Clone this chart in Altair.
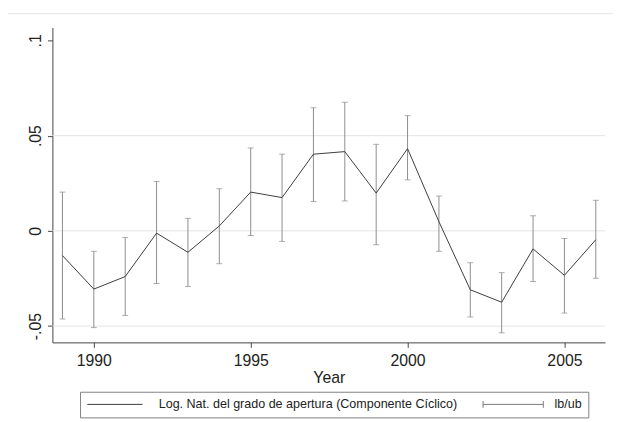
import altair as alt
import pandas as pd

years = list(range(1989, 2007))
serie = [-0.01295, -0.03057, -0.02399, -0.00119, -0.01124, 0.00259, 0.02036, 0.01746, 0.04026,
         0.04161, 0.01984, 0.04316, 0.00482, -0.03093, -0.03746, -0.00948, -0.02332, -0.00466]
lb = [-0.04627, -0.05078, -0.04440, -0.02762, -0.02917, -0.01725, -0.00244, -0.00554, 0.01544,
      0.01570, -0.00725, 0.02679, -0.01073, -0.04523, -0.05352, -0.02658, -0.04316, -0.02487]
ub = [0.02036, -0.01073, -0.00347, 0.02591, 0.00658, 0.02212, 0.04352, 0.04026, 0.06461,
      0.06751, 0.04544, 0.06047, 0.01829, -0.01674, -0.02192, 0.00793, -0.00399, 0.01606]
x_ticks = [1990, 1995, 2000, 2005]
y_ticks = [-0.05, 0, 0.05, 0.1]
grid_vals = [-0.05, 0, 0.05]
label_line = "Log. Nat. del grado de apertura (Componente Cíclico)"
label_ci = "lb/ub"

df = pd.DataFrame({"year": years, "val": serie, "lb": lb, "ub": ub, "series": label_line})
grid_df = pd.DataFrame({"g": grid_vals})

FONT = "Liberation Sans"
xscale = alt.Scale(domain=[1988.68, 2006.297], nice=False, zero=False)
yscale = alt.Scale(domain=[-0.05855, 0.10674], nice=False, zero=False)

ylabel = ("datum.value == 0 ? '0' : (datum.value < 0 ? '-' : '') + "
          "replace(format(abs(datum.value), '.2~f'), '0.', '.')")

frame_top = alt.Chart(pd.DataFrame({"a": [0]})).mark_rule(color="#e6e6e6", strokeWidth=1).encode(
    x=alt.value(-45), x2=alt.value(568), y=alt.value(-14))

grid = alt.Chart(grid_df).mark_rule(color="#e4e4e4", strokeWidth=1).encode(
    y=alt.Y("g:Q", scale=yscale))

bars = alt.Chart(df).mark_errorbar(
    ticks={"size": 6, "thickness": 1, "color": "#8c8c8c"},
    rule={"strokeWidth": 1, "color": "#8c8c8c"},
    color="#8c8c8c",
).encode(
    x=alt.X("year:Q", scale=xscale),
    y=alt.Y("lb:Q", scale=yscale),
    y2="ub:Q",
)

sym_expr = ("datum.value == 'lb/ub' ? 'M-1,-0.7L-1,0.7M-1,0L11.2,0M11.2,-0.7L11.2,0.7' "
            ": 'M-1,0L10.2,0'")

line = alt.Chart(df).mark_line(strokeWidth=1).encode(
    x=alt.X("year:Q", scale=xscale,
            axis=alt.Axis(values=x_ticks, format="d", title="Year", grid=False,
                          tickSize=5, labelPadding=5, titlePadding=2)),
    y=alt.Y("val:Q", scale=yscale,
            axis=alt.Axis(values=y_ticks, labelExpr=ylabel, title=None, grid=False,
                          tickSize=5, labelAngle=270, labelAlign="center",
                          labelBaseline="bottom", labelPadding=4)),
    color=alt.Color("series:N",
                    scale=alt.Scale(domain=[label_line, label_ci], range=["#3c3c3c", "#7a7a7a"]),
                    legend=alt.Legend(
                        title=None, orient="none", legendX=28, legendY=369,
                        direction="horizontal", padding=6, strokeColor="#808080",
                        fillColor="white", cornerRadius=0, symbolSize=100,
                        symbolType=alt.ExprRef(expr=sym_expr), symbolStrokeWidth=1,
                        symbolFillColor="transparent", symbolOffset=0,
                        labelOffset=61, columnPadding=23, labelFont=FONT,
                        labelFontSize=12.7, labelColor="#222222", labelLimit=0)),
)

chart = alt.layer(frame_top, grid, bars, line).properties(
    width=560, height=319,
    padding={"left": 45, "top": 17, "right": 8, "bottom": 90},
    autosize=alt.AutoSizeParams(type="none"),
    background="white",
).configure_view(stroke=None).configure_axis(
    labelFont=FONT, titleFont=FONT, labelFontSize=16, titleFontSize=16,
    titleFontWeight="normal", labelColor="#222222", titleColor="#222222",
    domainColor="#444444", tickColor="#444444", domainWidth=1, tickWidth=1,
)

chart.save("out.html", embed_options={"renderer": "svg", "actions": False})
